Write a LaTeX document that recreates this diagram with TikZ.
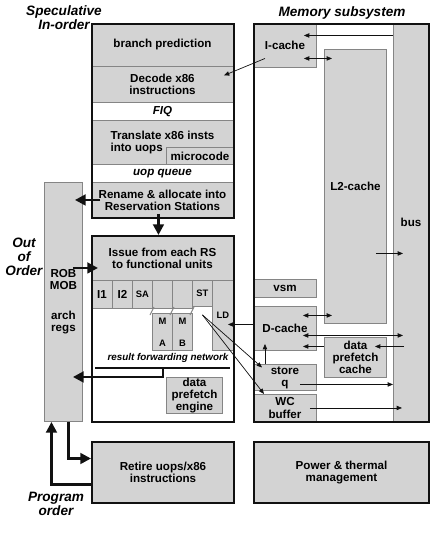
\documentclass[tikz,border=0pt]{standalone}
\usepackage{fontspec}
\setmainfont{Liberation Sans}
\usetikzlibrary{arrows.meta,calc,positioning}
\newlength\px
\setlength\px{0.03cm}
\definecolor{UnitFill}{HTML}{D3D3D3}
\definecolor{UnitEdge}{HTML}{858585}
\definecolor{FrameInk}{HTML}{111111}
\tikzset{
  every node/.style={font=\bfseries\fontsize{9.9}{10.3}\selectfont, text=black},
  cell/.style 2 args={minimum width=#1\px, minimum height=#2\px, anchor=north west},
  unit/.style={draw=UnitEdge, line width=0.8pt, fill=UnitFill, inner sep=0pt, align=center},
  slot/.style={unit, fill=white, font=\bfseries\itshape\fontsize{9.9}{10.3}\selectfont},
  frame/.style={draw=FrameInk, line width=1.7pt, inner sep=0pt},
  tiny/.style={font=\bfseries\fontsize{8}{9}\selectfont},
  heading/.style={font=\bfseries\itshape\fontsize{11.6}{12}\selectfont, align=center},
  link/.style={-{Triangle[length=1.6mm,width=1.3mm]}, draw=FrameInk, line width=0.6pt},
  twoway/.style={{Triangle[length=1.6mm,width=1.3mm]}-{Triangle[length=1.6mm,width=1.3mm]}, draw=FrameInk, line width=0.6pt},
  flow/.style={-{Triangle[length=3.2mm,width=3.2mm]}, draw=FrameInk, line width=2.2pt},
  busline/.style={draw=FrameInk, line width=2.2pt},
}

\begin{document}
\begin{tikzpicture}[x=0.03cm,y=-0.03cm]
  \useasboundingbox (0,0) rectangle (441,535);
  % Headings
  \node[heading] (spec) at (64,18) {Speculative\\In-order};
  \node[heading] (mem) at (342,13) {Memory subsystem};
  \node[heading] (ooo) at (24,257) {Out\\of\\Order};
  \node[heading] (prog) at (56,504) {Program\\order};
  % In-order front end
  \node[unit, cell={142}{43}] (bp) at (91,23) {branch prediction};
  \node[unit, cell={142}{36}] (decode) at (91,66) {Decode x86\\instructions};
  \node[slot, cell={142}{18}] (fiq) at (91,102) {FIQ};
  \node[unit, align=left, cell={142}{44}] (translate) at (91,120) {Translate x86 insts\\into uops};
  \node[unit, cell={67}{17}] (microcode) at (166,147) {microcode};
  \node[slot, cell={142}{18}] (uopq) at (91,164) {uop queue};
  \node[unit, cell={142}{35}] (rename) at (91,182) {Rename \& allocate into\\Reservation Stations};
  \node[frame, cell={142}{194}] (frontend) at (91,23) {};
  % Reorder buffer column
  \node[unit, cell={38}{239}] (rob) at (44,182) {ROB\\MOB\\[15pt]arch\\regs};
  % Out-of-order core
  \node[unit, cell={142}{45}] (issue) at (91,235) {Issue from each RS\\to functional units};
  \node[unit, cell={21}{28}] (i1) at (91,280) {I1};
  \node[unit, cell={20}{28}] (i2) at (112,280) {I2};
  \node[unit, tiny, cell={20}{28}] (sa) at (132,280) {SA};
  \node[unit, cell={20}{28}] (matop) at (152,280) {};
  \node[unit, cell={20}{28}] (mbtop) at (172,280) {};
  \node[unit, tiny, cell={20}{26}] (st) at (192,280) {ST};
  \node[unit, tiny, cell={21}{70}] (ld) at (212,280) {LD};
  \node[unit, tiny, cell={20}{37}] (ma) at (152,313) {M\\[10pt]A};
  \node[unit, tiny, cell={20}{37}] (mb) at (172,313) {M\\[10pt]B};
  \foreach \bx in {152,172,192}
    \draw[UnitEdge, line width=0.8pt] (\bx-2,315) -- (\bx+2,307);
  \node[font=\bfseries\itshape\fontsize{8.4}{9}\selectfont] (rfnlabel) at (168,358) {result forwarding network};
  \coordinate (rfn) at (163,368);
  \node[unit, cell={56}{36}] (dpe) at (166,377) {data\\prefetch\\engine};
  \node[frame, cell={142}{186}] (core) at (91,235) {};
  % Memory subsystem
  \node[unit, cell={35}{398}] (bus) at (393,23) {bus};
  \node[unit, cell={63}{44}] (icache) at (253,23) {I-cache};
  \node[unit, cell={62}{274}] (l2) at (324,49) {L2-cache};
  \node[unit, cell={63}{18}] (vsm) at (253,279) {vsm};
  \node[unit, cell={63}{44}] (dcache) at (253,306) {D-cache};
  \node[unit, cell={62}{40}] (dpc) at (324,337) {data\\prefetch\\cache};
  \node[unit, cell={63}{26}] (storeq) at (253,364) {store\\q};
  \node[unit, cell={63}{27}] (wc) at (253,394) {WC\\buffer};
  \node[frame, cell={175}{398}] (memory) at (253,23) {};
  % Retirement and power
  \node[unit, frame, cell={142}{61}] (retire) at (91,441) {Retire uops/x86\\instructions};
  \node[unit, frame, cell={175}{61}] (power) at (253,441) {Power \& thermal\\management};
  % Thick pipeline arrows
  \draw[flow] ($(rename.west)+(9,0)$) -- ($(rob.east |- rename.west)+(-8,0)$);
  \draw[flow] ($(rob.east |- issue.west)+(-10,10)$) -- ($(issue.west)+(7,10)$);
  \draw[flow] ($(rename.south)+(-4,-4)$) -- ($(issue.north)+(-4,0)$);
  \draw[busline] ($(rfn)+(-68,0)$) -- ($(rfn)+(67,0)$);
  \draw[flow] (rfn) |- ($(rob.east)+(-10,75)$);
  \draw[flow] ($(rob.south)+(5,0)$) |- ($(retire.west)+(0,-14)$);
  \draw[flow] ($(retire.west)+(0,12)$) -| ($(rob.south)+(-12,0)$);
  % Thin memory arrows
  \draw[link] ($(icache.center)+(-20,13)$) -- ($(decode.east)+(-10,-9)$);
  \draw[link] ($(bus.west |- icache.east)+(0,-10)$) -- ($(icache.east)+(-13,-10)$);
  \draw[twoway] ($(icache.east)+(-13,13)$) -- ($(l2.west |- icache.east)+(8,13)$);
  \draw[link] ($(l2.east |- bus.west)+(-11,31)$) -- ($(bus.west)+(10,31)$);
  \draw[twoway] ($(dcache.east)+(-14,-13)$) -- ($(l2.west |- dcache.east)+(8,-13)$);
  \draw[twoway] ($(dcache.east)+(-14,7)$) -- ($(bus.west |- dcache.east)+(10,7)$);
  \draw[link] ($(dpc.west)+(0,-11)$) -- ($(dcache.east |- dpc.west)+(-14,-11)$);
  \draw[link] ($(bus.west |- dpc.east)+(11,-11)$) -- ($(dpc.east)+(-12,-11)$);
  \draw[link] ($(storeq.center)+(15,7)$) -- ($(bus.west |- storeq.east)+(0,7)$);
  \draw[link] ($(wc.east)+(-7,0)$) -- ($(bus.west |- wc.east)+(9,0)$);
  \draw[link] ($(storeq.north)+(-20,0)$) -- ($(dcache.south)+(-20,-7)$);
  \draw[link] ($(st.south)+(0,8)$) -- ($(storeq.west)+(9,-10)$);
  \draw[link] ($(st.south)+(0,8)$) -- ($(wc.west)+(11,-14)$);
  \draw[link] ($(dcache.west)+(0,-4)$) -- ($(ld.east)+(-6,9)$);
\end{tikzpicture}
\end{document}
